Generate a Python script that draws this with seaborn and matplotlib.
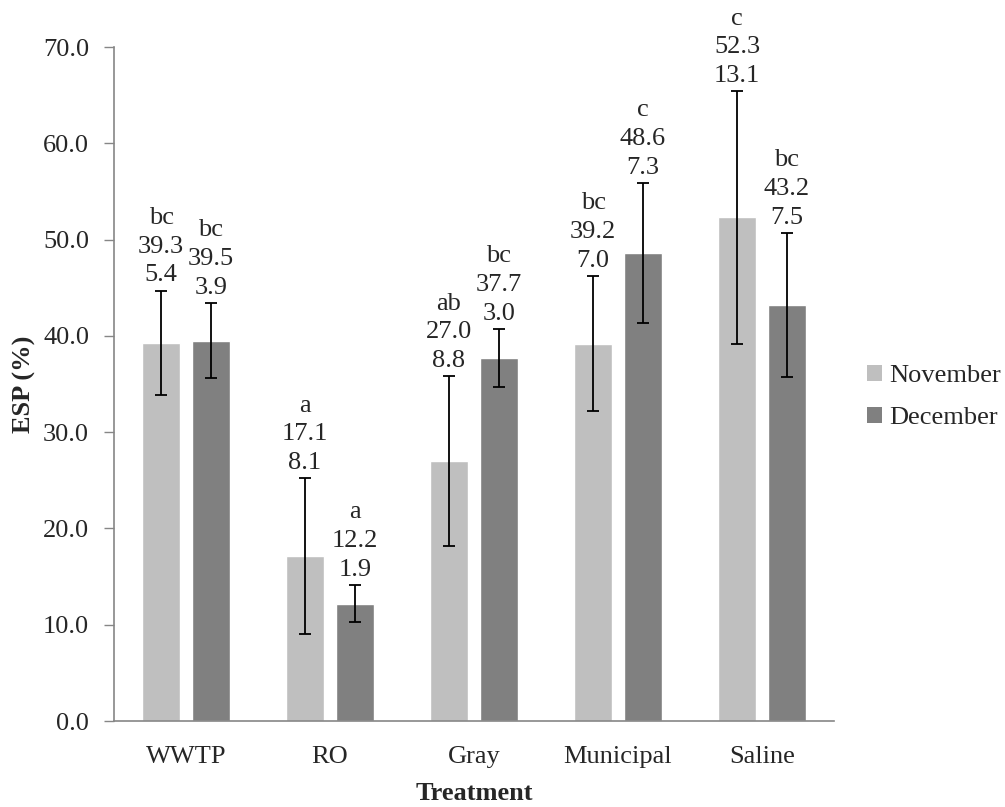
import matplotlib
matplotlib.use("Agg")
import matplotlib.pyplot as plt
import seaborn as sns
import pandas as pd
from matplotlib.patches import Patch

categories = ["WWTP", "RO", "Gray", "Municipal", "Saline"]
months = ["November", "December"]
nov_mean = [39.3, 17.1, 27.0, 39.2, 52.3]
nov_sd = [5.4, 8.1, 8.8, 7.0, 13.1]
nov_letters = ["bc", "a", "ab", "bc", "c"]
dec_mean = [39.5, 12.2, 37.7, 48.6, 43.2]
dec_sd = [3.9, 1.9, 3.0, 7.3, 7.5]
dec_letters = ["bc", "a", "bc", "c", "bc"]
colors = ["#BFBFBF", "#808080"]

sns.set_theme(style="white")
plt.rcParams["font.family"] = ["Liberation Serif", "DejaVu Serif"]

df = pd.DataFrame({
    "Treatment": categories * 2,
    "Month": [months[0]] * len(categories) + [months[1]] * len(categories),
    "ESP": nov_mean + dec_mean,
})

FS = 19

fig = plt.figure(figsize=(10.05, 8.07), dpi=100)
ax = fig.add_axes([114 / 1005, 1 - 721 / 807, 720 / 1005, 674 / 807])

sns.barplot(data=df, x="Treatment", y="ESP", hue="Month", order=categories,
            hue_order=months, palette=colors, errorbar=None, width=0.694,
            gap=0.24, saturation=1, legend=False, ax=ax)

series = [(nov_mean, nov_sd, nov_letters), (dec_mean, dec_sd, dec_letters)]
for cont, (means, sds, letters) in zip(ax.containers, series):
    xs = [p.get_x() + p.get_width() / 2 for p in cont.patches]
    ax.errorbar(xs, means, yerr=sds, fmt="none", ecolor="black",
                elinewidth=1.3, capsize=4.5, capthick=1.3, zorder=3)
    for x, m, s, l in zip(xs, means, sds, letters):
        ax.annotate(f"{l}\n{m:.1f}\n{s:.1f}", xy=(x, m + s), xytext=(0, 3),
                    textcoords="offset points", ha="center", va="bottom",
                    fontsize=FS, linespacing=1.4, annotation_clip=False)

ax.set_ylim(0, 70)
ax.set_xlim(-0.5, 4.5)
ax.set_yticks(range(0, 71, 10))
ax.set_yticklabels([f"{v:.1f}" for v in range(0, 71, 10)])
ax.tick_params(axis="y", which="major", direction="out", length=7, width=1,
               color="#868686", labelsize=FS, pad=11, left=True)
ax.tick_params(axis="x", length=0, labelsize=FS, pad=18)
for side in ["top", "right"]:
    ax.spines[side].set_visible(False)
for side in ["left", "bottom"]:
    ax.spines[side].set_color("#868686")
    ax.spines[side].set_linewidth(1.2)

ax.set_xlabel("Treatment", fontsize=FS, fontweight="bold", labelpad=10)
ax.set_ylabel("ESP (%)", fontsize=FS, fontweight="bold", labelpad=5)

handles = [Patch(facecolor=c, edgecolor="none", label=m) for c, m in zip(colors, months)]
fig.legend(handles=handles, loc="center left", bbox_to_anchor=(867 / 1005, 1 - 397 / 807),
           frameon=False, fontsize=FS, handlelength=0.55, handleheight=0.55,
           handletextpad=0.3, labelspacing=0.75, borderpad=0, borderaxespad=0)

fig.savefig("out.png", dpi=100)
